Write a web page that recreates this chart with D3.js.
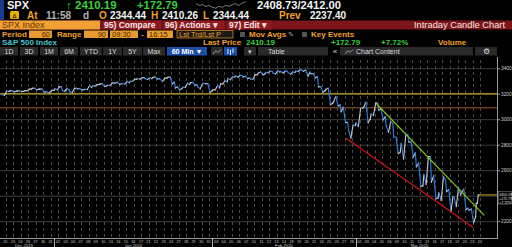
<!DOCTYPE html>
<html>
<head>
<meta charset="utf-8">
<script src="https://cdn.jsdelivr.net/npm/d3@7"></script>
<style>
  html, body { margin: 0; padding: 0; background: #000; }
  svg { display: block; }
</style>
</head>
<body>
<div id="chart"></div>
<script>
// SPX hourly candles, Dec 20 2019 - Mar 24 2020 (read per trading day)
const dayLabels = ["20","23","24","26","27","30","31",
  "02","03","06","07","08","09","10","13","14","15","16","17","21","22","23","24","27","28","29","30","31",
  "03","04","05","06","07","10","11","12","13","14","18","19","20","21","24","25","26","27","28",
  "02","03","04","05","06","09","10","11","12","13","16","17","18","19","20","23","24"];

const months = ["Dec 2019", "Jan 2020", "Feb 2020", "Mar 2020"];
const monthStarts = [0, 7, 28, 47];
const monthEnds = [7, 28, 47, 64];

const opens = [3195,3226,3225,3227,3247,3240,3215,
  3245,3226,3218,3241,3238,3267,3281,3271,3285,3282,3302,3323,3321,3330,3316,3333,3248,3255,3289,3256,3282,
  3235,3281,3324,3344,3335,3318,3365,3370,3365,3378,3369,3381,3380,3361,3258,3238,3140,3063,2916,
  2974,3096,3045,3076,2954,2864,2814,2825,2631,2569,2509,2426,2436,2393,2431,2290,2344];
const highs = [3226,3227,3226,3240,3247,3240,3231,
  3258,3246,3246,3244,3267,3275,3282,3288,3294,3299,3317,3329,3329,3337,3326,3334,3258,3286,3293,3285,3282,
  3268,3306,3337,3348,3341,3352,3375,3381,3385,3381,3375,3393,3389,3361,3259,3247,3182,3098,2959,
  3091,3137,3130,3083,2985,2863,2883,2825,2660,2711,2562,2553,2453,2466,2454,2300,2410];
const lows = [3191,3217,3220,3227,3234,3216,3212,
  3235,3222,3214,3233,3236,3263,3260,3268,3277,3281,3301,3318,3316,3320,3301,3281,3234,3253,3271,3242,3214,
  3235,3281,3313,3333,3323,3317,3352,3369,3360,3367,3356,3378,3341,3328,3215,3118,3108,2977,2855,
  2946,2976,3035,2999,2901,2734,2692,2708,2478,2493,2380,2367,2281,2319,2295,2192,2344];
const closes = [3221,3224,3223,3240,3240,3221,3231,
  3258,3235,3246,3237,3253,3275,3265,3288,3283,3289,3317,3330,3321,3321,3326,3295,3244,3276,3273,3284,3226,
  3249,3298,3334,3345,3328,3352,3358,3379,3374,3380,3370,3386,3373,3338,3226,3128,3116,2979,2954,
  3090,3003,3130,3024,2972,2747,2882,2741,2481,2711,2386,2529,2398,2409,2305,2237,2410];
const lastDayFraction = 0.45;

const yTicks = [3400, 3200, 3000, 2800, 2600, 2400, 2200];
const levelLines = [3203, 3094];
const lastPrice = 2410.19;
const lastTag = ["2410.19", "+172.79", "+7.72%"];

// trend lines: [dayPosition, price]
const upperTrend = [[49.8, 3123], [64.1, 2250]];
const lowerTrend = [[45.7, 2857], [62.6, 2156]];

const W = 512, H = 247;
const ORANGE = "#f3a12b", GREEN = "#37d23a", WHITE = "#f2f2f2", GRAY = "#b4b4b4";
const FONT = "'Liberation Sans', Arial, sans-serif";

const svg = d3.select("#chart").append("svg")
  .attr("width", W).attr("height", H)
  .style("background", "#000")
  .attr("font-family", FONT);

function txt(x, y, s, size, fill, opts = {}) {
  return svg.append("text")
    .attr("x", x).attr("y", y)
    .attr("font-size", size)
    .attr("fill", fill)
    .attr("font-weight", opts.bold ? "bold" : null)
    .attr("text-anchor", opts.anchor || "start")
    .text(s);
}

// ---------- header ----------
svg.append("rect").attr("x", 0).attr("y", 0).attr("width", 4).attr("height", 20).attr("fill", "#1b3c8c");
txt(7, 9.2, "SPX", 11, WHITE, { bold: true });
txt(66, 9.2, "\u2191", 11, GREEN, { bold: true });
txt(75, 9.2, "2410.19", 11.5, GREEN, { bold: true });
txt(137, 9.2, "+172.79", 11.2, GREEN, { bold: true });
// small sparkline next to the quote
const spark = [3, 5, 4, 6, 5, 7, 8, 6, 7, 5, 6, 4, 3, 5, 2, 1];
svg.append("path")
  .attr("d", d3.line().x((d, i) => 196 + i * 3.3).y(d => 1 + d * 0.9)(spark))
  .attr("fill", "none").attr("stroke", "#9a9a9a").attr("stroke-width", 0.8);
txt(257, 9.2, "2408.73/2412.00", 11.2, WHITE, { bold: true });

svg.append("rect").attr("x", 10).attr("y", 11).attr("width", 9).attr("height", 8).attr("rx", 1.5).attr("fill", "#e8b400");
txt(14.5, 17.6, "\u0394", 6, "#3a2a00", { anchor: "middle", bold: true });
txt(27, 19.4, "At", 10, ORANGE, { bold: true });
txt(46, 19.4, "11:58", 10, GRAY, { bold: true });
txt(83, 19.4, "d", 10, GRAY, { bold: true });
txt(99, 19.4, "O", 10, ORANGE, { bold: true });
txt(110, 19.4, "2344.44", 10, WHITE, { bold: true });
txt(151, 19.4, "H", 10, ORANGE, { bold: true });
txt(162, 19.4, "2410.26", 10, WHITE, { bold: true });
txt(203, 19.4, "L", 10, ORANGE, { bold: true });
txt(213, 19.4, "2344.44", 10, WHITE, { bold: true });
txt(279, 19.4, "Prev", 10, ORANGE, { bold: true });
txt(310, 19.4, "2237.40", 10, WHITE, { bold: true });

// row 3: security + red menu bar
svg.append("rect").attr("x", 0).attr("y", 20.5).attr("width", 512).attr("height", 9).attr("fill", "#7d151a");
svg.append("rect").attr("x", 0).attr("y", 20.5).attr("width", 100).attr("height", 9).attr("fill", "#f0a034");
txt(2, 28.3, "SPX Index", 9, "#6a3a00");
[[102, 162, "95) Compare"], [163, 225, "96) Actions \u25be"], [227, 273, "97) Edit \u25be"]].forEach(([a, b, s]) => {
  svg.append("rect").attr("x", a).attr("y", 20.5).attr("width", b - a).attr("height", 9)
    .attr("fill", "#8e1a20").attr("stroke", "#5a0c10").attr("stroke-width", 0.6);
  txt(a + 2, 28.3, s, 8.5, "#f4e4e4", { bold: true });
});
txt(505, 28.3, "Intraday Candle Chart", 9.3, "#f4e4e4", { anchor: "end" });

// row 4: period / range fields
txt(2, 37, "Period", 8, ORANGE, { bold: true });
function field(a, b, s, anchor) {
  svg.append("rect").attr("x", a).attr("y", 30.5).attr("width", b - a).attr("height", 7.5).attr("fill", "#e89a2e");
  txt(anchor === "end" ? b - 2 : a + 2, 36.8, s, 7.5, "#4a2800", { anchor: anchor || "start" });
}
field(29, 52, "60", "end");
txt(57, 37, "Range", 8, ORANGE, { bold: true });
field(84, 108, "90", "end");
field(110, 138, "09:30");
txt(141, 37, "-", 8, ORANGE, { bold: true });
field(147, 173, "16:15");
svg.append("rect").attr("x", 177).attr("y", 30.5).attr("width", 56).attr("height", 7.5).attr("fill", "#1a1a1a").attr("stroke", "#e89a2e").attr("stroke-width", 0.7);
txt(179, 36.8, "Lst Trd/Lst P", 7.5, ORANGE);
svg.append("rect").attr("x", 240).attr("y", 32).attr("width", 5).attr("height", 5).attr("fill", "#555");
txt(249, 37, "Mov Avgs", 8, ORANGE, { bold: true });
txt(288, 37, "\u270e", 7, "#aaa");
svg.append("rect").attr("x", 302).attr("y", 32).attr("width", 5).attr("height", 5).attr("fill", "#555");
txt(311, 37, "Key Events", 8, ORANGE, { bold: true });

// row 5
txt(2, 45.3, "S&P 500 Index", 8, "#43c7cf", { bold: true });
txt(203, 45.3, "Last Price", 8, ORANGE, { bold: true });
txt(246, 45.3, "2410.19", 8, GREEN, { bold: true });
txt(331, 45.3, "+172.79", 8, GREEN, { bold: true });
txt(381, 45.3, "+7.72%", 8, GREEN, { bold: true });
txt(438, 45.3, "Volume", 8, ORANGE, { bold: true });

// row 6: toolbar
const buttons = [[0, 18, "1D"], [20, 38, "3D"], [40, 58, "1M"], [60, 78, "6M"], [80, 102, "YTD"],
  [103, 122, "1Y"], [123, 142, "5Y"], [143, 165, "Max"]];
buttons.forEach(([a, b, s]) => {
  svg.append("rect").attr("x", a).attr("y", 47).attr("width", b - a).attr("height", 8.5).attr("fill", "#2a2a2a");
  txt((a + b) / 2, 53.8, s, 7, "#d8d8d8", { anchor: "middle" });
});
svg.append("rect").attr("x", 167).attr("y", 47).attr("width", 40).attr("height", 8.5).attr("fill", "#1c4fa8");
txt(187, 53.8, "60 Min \u25bc", 7, "#ffffff", { anchor: "middle", bold: true });
svg.append("rect").attr("x", 211).attr("y", 47).attr("width", 12).attr("height", 8.5).attr("fill", "#2a2a2a");
svg.append("path").attr("d", "M213,54 L216,50.5 L218,52.5 L221,49.5").attr("fill", "none").attr("stroke", "#cfcfcf").attr("stroke-width", 0.7);
svg.append("rect").attr("x", 224).attr("y", 47).attr("width", 13).attr("height", 8.5).attr("fill", "#1c4fa8");
svg.append("path").attr("d", "M228,49 V54 M230.5,50 V55 M233,48.5 V53").attr("stroke", "#fff").attr("stroke-width", 0.9);
svg.append("rect").attr("x", 244).attr("y", 47).attr("width", 12).attr("height", 8.5).attr("fill", "#2a2a2a");
txt(250, 53.6, "\u25be", 7, "#ccc", { anchor: "middle" });
svg.append("rect").attr("x", 258).attr("y", 47).attr("width", 70).attr("height", 8.5).attr("fill", "#2a2a2a");
txt(268, 53.8, "Table", 7, "#d8d8d8");
txt(335, 53.8, "\u00ab", 8, "#d8d8d8", { anchor: "middle" });
svg.append("rect").attr("x", 340).attr("y", 47).attr("width", 133).attr("height", 8.5).attr("fill", "#2a2a2a");
svg.append("path").attr("d", "M345,54 L348,50.5 L350,52.5 L353,49.5").attr("fill", "none").attr("stroke", "#cfcfcf").attr("stroke-width", 0.7);
txt(356, 53.8, "Chart Content", 7, "#d8d8d8");
svg.append("rect").attr("x", 475).attr("y", 47).attr("width", 22).attr("height", 8.5).attr("fill", "#2a2a2a");
txt(486, 54, "\u2699", 7.5, "#d8d8d8", { anchor: "middle" });

// ---------- chart ----------
const plotTop = 57, plotBottom = 238, plotRight = 497;
const x = d3.scaleLinear().domain([0, 64]).range([1.6, 1.6 + 64 * 7.53]);
const y = d3.scaleLinear().domain([2200, 3400]).range([221.7, 68.7]);

const plot = svg.append("g");

// horizontal grid
plot.selectAll("line.hgrid").data(yTicks).join("line")
  .attr("x1", 0).attr("x2", plotRight)
  .attr("y1", d => y(d)).attr("y2", d => y(d))
  .attr("stroke", "#3c3c3c").attr("stroke-width", 1);

// vertical dashed day grid
plot.selectAll("line.vgrid").data(dayLabels.map((d, i) => i)).join("line")
  .attr("x1", i => Math.round(x(i + 0.55)) + 0.5).attr("x2", i => Math.round(x(i + 0.55)) + 0.5)
  .attr("y1", plotTop + 3).attr("y2", plotBottom)
  .attr("stroke", "#4a4a4a").attr("stroke-width", 1).attr("stroke-dasharray", "3,3");

// level lines
plot.append("line").attr("x1", 0).attr("x2", plotRight)
  .attr("y1", y(levelLines[0])).attr("y2", y(levelLines[0]))
  .attr("stroke", "#9e8a1e").attr("stroke-width", 1.6);
plot.append("line").attr("x1", 0).attr("x2", plotRight)
  .attr("y1", y(levelLines[1])).attr("y2", y(levelLines[1]))
  .attr("stroke", "#6a3912").attr("stroke-width", 1.6);

// price path built from each day's open, extremes, close
const pts = [];
opens.forEach((o, i) => {
  const frac = i === opens.length - 1 ? lastDayFraction : 1;
  const up = closes[i] >= o;
  const first = up ? lows[i] : highs[i];
  const second = up ? highs[i] : lows[i];
  pts.push([i + 0.08 * frac, o]);
  pts.push([i + 0.38 * frac, first]);
  pts.push([i + 0.68 * frac, second]);
  pts.push([i + 0.95 * frac, closes[i]]);
});
const segs = d3.pairs(pts);
plot.selectAll("line.seg").data(segs).join("line")
  .attr("x1", d => x(d[0][0])).attr("y1", d => y(d[0][1]))
  .attr("x2", d => x(d[1][0])).attr("y2", d => y(d[1][1]))
  .attr("stroke", d => d[1][1] < d[0][1] ? "#2f80ea" : "#c9c9c9")
  .attr("stroke-width", 1.1)
  .attr("stroke-linecap", "square");

// trend lines
plot.append("line")
  .attr("x1", x(upperTrend[0][0])).attr("y1", y(upperTrend[0][1]))
  .attr("x2", x(upperTrend[1][0])).attr("y2", y(upperTrend[1][1]))
  .attr("stroke", "#7fc21a").attr("stroke-width", 1.2);
plot.append("line")
  .attr("x1", x(lowerTrend[0][0])).attr("y1", y(lowerTrend[0][1]))
  .attr("x2", x(lowerTrend[1][0])).attr("y2", y(lowerTrend[1][1]))
  .attr("stroke", "#d0141a").attr("stroke-width", 1.2);

// last price line
plot.append("line").attr("x1", x(63 + lastDayFraction)).attr("x2", plotRight)
  .attr("y1", y(lastPrice)).attr("y2", y(lastPrice))
  .attr("stroke", "#8f7c1c").attr("stroke-width", 1.4);

// right axis
svg.append("line").attr("x1", plotRight + 0.5).attr("x2", plotRight + 0.5)
  .attr("y1", plotTop).attr("y2", plotBottom + 0.5)
  .attr("stroke", "#9a9a9a").attr("stroke-width", 1);
const yAxis = svg.append("g");
yTicks.filter(d => d !== 2400).forEach(d => {
  yAxis.append("line").attr("x1", plotRight).attr("x2", plotRight + 3)
    .attr("y1", y(d)).attr("y2", y(d)).attr("stroke", "#9a9a9a");
  yAxis.append("text").attr("x", plotRight + 4).attr("y", y(d) + 1.7)
    .attr("font-size", 4.8).attr("fill", "#cfcfcf").text(d);
});

// last price tag
svg.append("rect").attr("x", plotRight + 1.5).attr("y", y(lastPrice) - 3.3).attr("width", 13).attr("height", 12.5)
  .attr("fill", "#000").attr("stroke", "#8a8a8a").attr("stroke-width", 0.5);
lastTag.forEach((s, i) => {
  svg.append("text").attr("x", plotRight + 2.2).attr("y", y(lastPrice) + 1 + i * 4)
    .attr("font-size", 3.5).attr("fill", "#e8e8e8").text(s);
});

// bottom axis
svg.append("line").attr("x1", 0).attr("x2", plotRight + 1)
  .attr("y1", plotBottom + 0.5).attr("y2", plotBottom + 0.5)
  .attr("stroke", "#9a9a9a").attr("stroke-width", 1);
svg.selectAll("text.day").data(dayLabels).join("text")
  .attr("x", (d, i) => x(i + 0.5)).attr("y", 242.5)
  .attr("font-size", 3.8).attr("text-anchor", "middle")
  .attr("fill", "#c8c8c8").text(d => d);
monthStarts.slice(1).forEach(s => {
  svg.append("line").attr("x1", Math.round(x(s)) + 0.5).attr("x2", Math.round(x(s)) + 0.5)
    .attr("y1", plotBottom).attr("y2", H)
    .attr("stroke", "#b0b0b0").attr("stroke-width", 1);
});
months.forEach((m, i) => {
  svg.append("text").attr("x", x((monthStarts[i] + monthEnds[i]) / 2) - (i === 0 ? 4 : 0)).attr("y", 246.8)
    .attr("font-size", 4.2).attr("text-anchor", "middle")
    .attr("fill", "#d0d0d0").text(m);
});
</script>
</body>
</html>
